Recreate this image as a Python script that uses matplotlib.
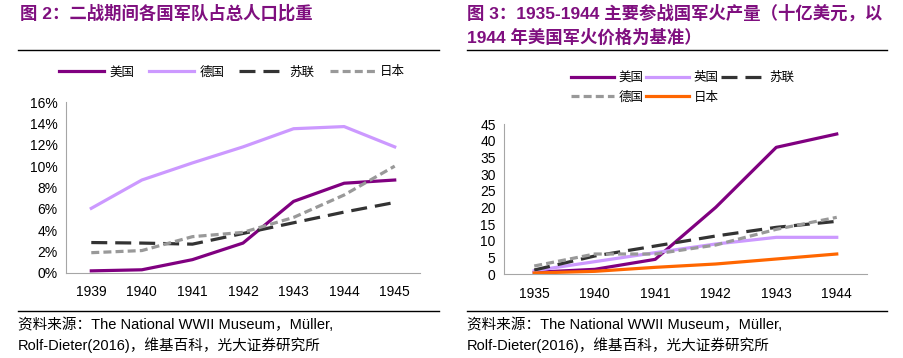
import matplotlib
matplotlib.use("Agg")
import matplotlib.pyplot as plt
from matplotlib.lines import Line2D

plt.rcParams['font.family'] = ['Liberation Sans', 'Noto Sans CJK SC', 'DejaVu Sans']

# 图2 数据
years_l = ['1939', '1940', '1941', '1942', '1943', '1944', '1945']
usa_l = [0.2, 0.3, 1.25, 2.8, 6.7, 8.4, 8.7]
ger_l = [6.05, 8.7, 10.3, 11.8, 13.5, 13.7, 11.8]
ussr_l = [2.85, 2.8, 2.7, 3.7, 4.7, 5.7, 6.6]
jpn_l = [1.9, 2.1, 3.4, 3.8, 5.2, 7.3, 10.0]

# 图3 数据
years_r = ['1935', '1940', '1941', '1942', '1943', '1944']
usa_r = [0.5, 1.4, 4.4, 20.0, 38.0, 42.0]
uk_r = [1.0, 3.7, 6.4, 9.0, 11.0, 11.0]
ussr_r = [1.2, 5.4, 8.4, 11.4, 14.0, 15.8]
ger_r = [2.4, 6.0, 6.0, 8.7, 13.4, 17.0]
jpn_r = [0.3, 0.8, 2.0, 3.0, 4.5, 6.0]

PURPLE = '#800080'
LAV = '#CC99FF'
DARK = '#333333'
GRAY = '#999999'
ORANGE = '#FF6600'
TITLE_C = '#7F0F7F'

W, H = 904, 358
fig = plt.figure(figsize=(W / 100, H / 100), dpi=100)


def px_axes(x0, y0, x1, y1):
    return fig.add_axes([x0 / W, 1 - y1 / H, (x1 - x0) / W, (y1 - y0) / H])


def style(ax):
    for s in ['top', 'right']:
        ax.spines[s].set_visible(False)
    for s in ['left', 'bottom']:
        ax.spines[s].set_color('#A6A6A6')
        ax.spines[s].set_linewidth(0.8)
    ax.tick_params(length=0, labelsize=10, pad=6)
    ax.tick_params(axis='x', pad=9)


lw = 2.3
dash_long = (5, 2.5)
dash_short = (2.5, 1.3)

# ---- 左图
axl = px_axes(66, 102, 420, 273)
x = range(len(years_l))
axl.plot(x, usa_l, color=PURPLE, lw=lw, label='美国')
axl.plot(x, ger_l, color=LAV, lw=lw, label='德国')
axl.plot(x, ussr_l, color=DARK, lw=lw, dashes=dash_long, label='苏联')
axl.plot(x, jpn_l, color=GRAY, lw=lw, dashes=dash_short, label='日本')
axl.set_xlim(-0.5, len(years_l) - 0.5)
axl.set_ylim(0, 16)
axl.set_yticks(range(0, 17, 2))
axl.set_yticklabels([f'{v}%' for v in range(0, 17, 2)])
axl.set_xticks(list(x))
axl.set_xticklabels(years_l)
style(axl)
hl, ll = axl.get_legend_handles_labels()
fig.legend(hl, ll, loc='center', bbox_to_anchor=(232 / W, 1 - 72 / H), ncol=4,
           frameon=False, handlelength=3.6, handletextpad=0.4,
           columnspacing=1.2, prop={'family': ['Noto Sans CJK SC'], 'size': 9})

# ---- 右图
axr = px_axes(504, 124, 867, 274)
x = range(len(years_r))
l_us, = axr.plot(x, usa_r, color=PURPLE, lw=lw, label='美国')
l_uk, = axr.plot(x, uk_r, color=LAV, lw=lw, label='英国')
l_su, = axr.plot(x, ussr_r, color=DARK, lw=lw, dashes=dash_long, label='苏联')
l_de, = axr.plot(x, ger_r, color=GRAY, lw=lw, dashes=dash_short, label='德国')
l_jp, = axr.plot(x, jpn_r, color=ORANGE, lw=lw, label='日本')
axr.set_xlim(-0.5, len(years_r) - 0.5)
axr.set_ylim(0, 45)
axr.set_yticks(range(0, 46, 5))
axr.set_xticks(list(x))
axr.set_xticklabels(years_r)
style(axr)
fig.legend([l_us, l_de, l_uk, l_jp, l_su], ['美国', '德国', '英国', '日本', '苏联'],
           loc='upper left', bbox_to_anchor=(560 / W, 1 - 60 / H), ncol=3,
           frameon=False, handlelength=3.4, handletextpad=0.4,
           columnspacing=0.2, labelspacing=0.5,
           prop={'family': ['Noto Sans CJK SC'], 'size': 9})

# ---- 标题与分隔线
tfont = ['Liberation Sans', 'Noto Sans CJK SC']
fig.text(20 / W, 1 - 13 / H, '图 2：二战期间各国军队占总人口比重', color=TITLE_C,
         fontsize=12.5, fontweight='bold', family=tfont, va='center', ha='left')
fig.text(467 / W, 1 - 13 / H, '图 3：1935-1944 主要参战国军火产量（十亿美元，以',
         color=TITLE_C, fontsize=12.5, fontweight='bold', family=tfont, va='center', ha='left')
fig.text(467 / W, 1 - 37 / H, '1944 年美国军火价格为基准）',
         color=TITLE_C, fontsize=12.5, fontweight='bold', family=tfont, va='center', ha='left')

for (a, b) in [(18, 439), (467, 887)]:
    fig.add_artist(Line2D([a / W, b / W], [1 - 50 / H] * 2, color='black', lw=1))
    fig.add_artist(Line2D([a / W, b / W], [1 - 311 / H] * 2, color='black', lw=1))

src1 = '资料来源：The National WWII Museum，Müller,'
src2 = 'Rolf-Dieter(2016)，维基百科，光大证券研究所'
for x0 in (18, 467):
    fig.text(x0 / W, 1 - 325 / H, src1, fontsize=10.5, family=tfont, va='center', ha='left')
    fig.text(x0 / W, 1 - 345 / H, src2, fontsize=10.5, family=tfont, va='center', ha='left')

fig.savefig('out.png', dpi=100)
